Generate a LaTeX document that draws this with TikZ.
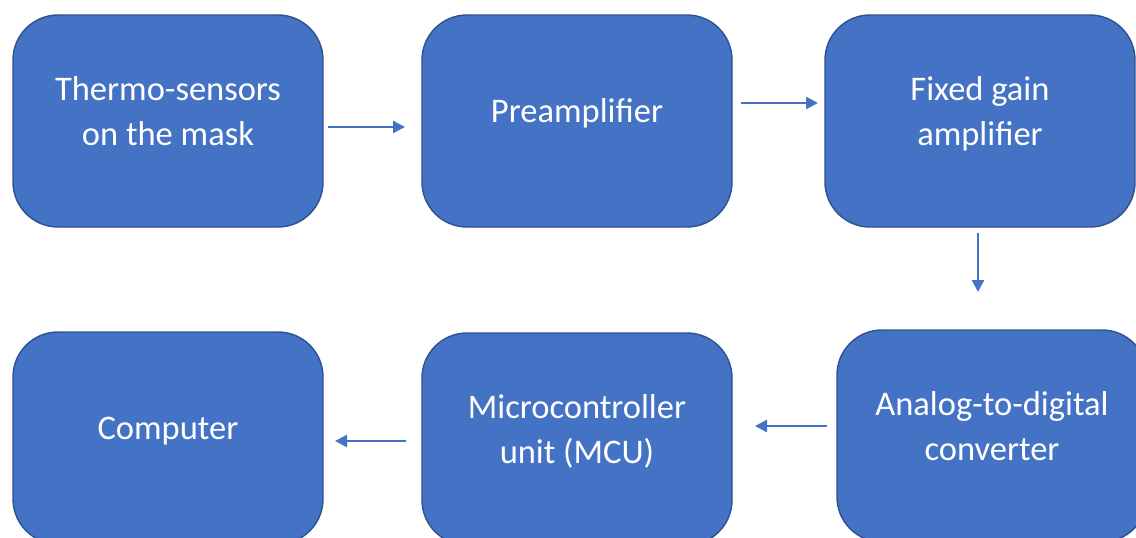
\documentclass[tikz,border=0pt]{standalone}
\usepackage{fontspec}
\setmainfont{Carlito}
\usetikzlibrary{arrows.meta,calc}
\definecolor{boxfill}{HTML}{4472C4}
\definecolor{boxline}{HTML}{2F528F}
\newcommand\TopS{\rule{0pt}{25pt}}
\newcommand\BotS{\rule[-8pt]{0pt}{8pt}}
\begin{document}
\begin{tikzpicture}[x=1pt,y=-1pt,
  blockbox/.style={draw=boxline, line width=1.4pt, fill=boxfill, rounded corners=45pt,
    minimum width=310pt, minimum height=212pt, inner sep=0pt, outer sep=0pt},
  blocktext/.style={text=white, font=\fontsize{34.5}{45}\selectfont, align=center,
    inner sep=0pt, yshift=7pt},
  flowarrow/.style={draw=boxfill, line width=2.3pt, -{Triangle[length=12pt,width=12pt]}}]
\useasboundingbox (0,0) rectangle (1136,538);
\clip (0,0) rectangle (1136,538);
\fill[white] (0,0) rectangle (1136,538);

\node[blockbox] (b1) at (168,121) {};
\node[blockbox] (b2) at (577,121) {};
\node[blockbox] (b3) at (980,121) {};
\node[blockbox] (b4) at (168,438) {};
\node[blockbox] (b5) at (577,439) {};
\node[blockbox] (b6) at (992,436) {};

\node[blocktext] (t1) at (b1.center) {\TopS Thermo-sensors\\on the mask\BotS};
\node[blocktext] (t2) at (b2.center) {\TopS Preamplifier\BotS};
\node[blocktext] (t3) at (b3.center) {\TopS Fixed gain\\amplifier\BotS};
\node[blocktext] (t4) at (b4.center) {\TopS Computer\BotS};
\node[blocktext] (t5) at (b5.center) {\TopS Microcontroller\\unit (MCU)\BotS};
\node[blocktext] (t6) at (b6.center) {\TopS Analog-to-digital\\converter\BotS};

\draw[flowarrow] ($(b1.east)+(5,6)$) -- ($(b2.west)+(-17,6)$);
\draw[flowarrow] ($(b2.east)+(9,-18)$) -- ($(b3.west)+(-7,-18)$);
\draw[flowarrow] ($(b3.south)+(-2,6)$) -- ($(b6.north)+(-14,-38)$);
\draw[flowarrow] ($(b6.west)+(-10,-10)$) -- ($(b5.east)+(23,-13)$);
\draw[flowarrow] ($(b5.west)+(-16,2)$) -- ($(b4.east)+(12,3)$);
\end{tikzpicture}
\end{document}
